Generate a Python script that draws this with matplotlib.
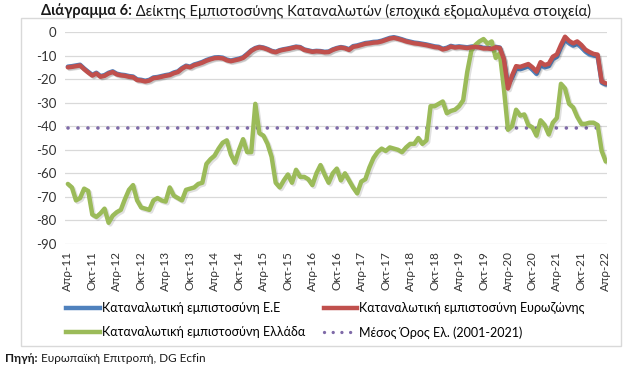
import matplotlib
matplotlib.use("Agg")
import matplotlib.pyplot as plt
from matplotlib.patches import Rectangle
from matplotlib.lines import Line2D
import matplotlib.patheffects as pe

# ---- data (monthly, Apr-2011 .. Apr-2022) ----
eurozone = [
    -15.0, -14.8, -14.5, -14.2, -15.8, -17.2, -18.5, -17.6, -19.0,
    -18.6, -17.6, -17.0, -18.0, -18.4, -18.6, -19.0, -19.2, -20.4, -20.6, -21.0, -20.6,
    -19.6, -19.4, -19.0, -18.6, -18.3, -17.5, -17.0, -15.6, -14.6, -15.0, -14.1, -13.6,
    -13.0, -12.2, -11.6, -11.1, -11.0, -11.2, -12.0, -12.4, -12.0, -11.6, -11.0, -9.6,
    -8.0, -7.0, -6.5, -6.8, -7.4, -8.2, -8.6, -7.9, -7.5, -7.2, -6.8, -6.4,
    -6.6, -7.6, -8.0, -8.4, -8.2, -8.3, -8.6, -8.5, -7.6, -7.0, -6.6, -6.9,
    -7.6, -6.3, -6.0, -5.5, -5.0, -4.8, -4.5, -4.4, -4.0, -3.4, -2.8, -2.5,
    -2.9, -3.4, -4.0, -4.4, -4.8, -5.0, -5.3, -5.6, -6.0, -6.4, -6.6, -7.4,
    -7.0, -6.2, -6.6, -6.4, -6.6, -6.8, -6.5, -6.3, -6.6, -7.0, -7.0, -7.2,
    -6.5, -6.8, -11.5, -24.0, -18.5, -14.5, -14.8, -14.2, -13.6, -15.0, -16.8, -12.8,
    -14.0, -13.5, -10.5, -9.5, -5.5, -2.0, -3.8, -4.8, -4.0, -5.5, -7.5, -8.5,
    -9.3, -9.6, -21.0, -21.8,
]
eu = [
    -14.7, -14.5, -14.2, -13.9, -15.5, -16.9, -18.2, -17.3, -18.7,
    -18.3, -17.3, -16.7, -17.7, -18.1, -18.3, -18.7, -18.9, -20.1, -20.3, -20.7, -20.3,
    -19.3, -19.1, -18.7, -18.3, -18.0, -17.2, -16.7, -15.3, -14.3, -14.7, -13.8, -13.3,
    -12.7, -11.9, -11.3, -10.8, -10.7, -10.9, -11.7, -12.1, -11.7, -11.3, -10.7, -9.3,
    -7.8, -6.8, -6.3, -6.6, -7.2, -8.0, -8.4, -7.7, -7.3, -7.0, -6.6, -6.2,
    -6.4, -7.4, -7.8, -8.2, -8.0, -8.1, -8.4, -8.3, -7.4, -6.8, -6.4, -6.7,
    -7.3, -6.0, -5.7, -5.2, -4.7, -4.5, -4.2, -4.1, -3.7, -3.1, -2.5, -2.2,
    -2.6, -3.1, -3.7, -4.1, -4.5, -4.7, -5.0, -5.3, -5.7, -6.1, -6.3, -7.1,
    -6.7, -5.9, -6.3, -6.1, -6.3, -6.5, -6.2, -6.0, -6.3, -6.7, -6.7, -6.9,
    -6.3, -6.6, -11.8, -22.5, -19.5, -15.5, -15.8, -15.2, -14.5, -16.0, -17.8, -14.0,
    -15.0, -14.5, -11.5, -10.5, -6.5, -3.2, -4.8, -5.8, -5.0, -6.5, -8.3, -9.5,
    -10.0, -10.3, -21.5, -22.3,
]
greece = [
    -64.5, -66.0, -71.5, -70.5, -66.5, -67.5, -77.5, -78.5, -77.0,
    -75.0, -81.0, -78.0, -76.5, -75.5, -71.0, -67.0, -65.0, -71.5, -74.5, -75.0, -75.5,
    -71.5, -70.5, -71.5, -72.0, -66.0, -69.5, -70.5, -71.5, -67.0, -66.5, -66.0, -64.5,
    -64.0, -56.0, -54.0, -52.5, -49.5, -47.0, -46.0, -52.0, -55.5, -50.0, -45.5, -51.0,
    -51.0, -30.5, -43.0, -44.0, -47.5, -53.0, -64.0, -66.0, -63.0, -60.5, -64.0, -58.5,
    -61.5, -61.5, -62.5, -65.0, -60.0, -56.5, -60.5, -64.0, -60.0, -58.0, -63.0, -60.0,
    -63.0, -66.0, -68.5, -63.5, -62.5, -57.5, -53.5, -51.0, -49.5, -50.5, -49.0, -49.5,
    -50.0, -51.0, -49.0, -47.5, -47.5, -45.0, -47.5, -46.0, -31.5, -31.5, -30.5, -29.5,
    -34.5, -33.5, -33.0, -31.5, -29.0, -17.0, -8.0, -5.5, -4.0, -3.0, -5.0, -4.0,
    -11.0, -9.0, -24.0, -41.5, -40.0, -33.0, -35.5, -35.0, -39.5, -40.5, -44.0, -37.5,
    -39.5, -43.5, -38.5, -36.5, -22.0, -24.0, -30.5, -32.0, -36.0, -39.0, -39.0, -38.5,
    -38.5, -39.5, -50.5, -55.0,
]
greece_mean = -40.7

tick_labels = ["Απρ-11", "Οκτ-11", "Απρ-12", "Οκτ-12", "Απρ-13", "Οκτ-13",
               "Απρ-14", "Οκτ-14", "Απρ-15", "Οκτ-15", "Απρ-16", "Οκτ-16",
               "Απρ-17", "Οκτ-17", "Απρ-18", "Οκτ-18", "Απρ-19", "Οκτ-19",
               "Απρ-20", "Οκτ-20", "Απρ-21", "Οκτ-21", "Απρ-22"]
y_ticks = [0, -10, -20, -30, -40, -50, -60, -70, -80, -90]

labels = ["Καταναλωτική εμπιστοσύνη Ε.Ε",
          "Καταναλωτική εμπιστοσύνη Ευρωζώνης",
          "Καταναλωτική εμπιστοσύνη Ελλάδα",
          "Μέσος Όρος Ελ. (2001-2021)"]

C_BLUE = "#4F81BD"
C_RED = "#C0504D"
C_GREEN = "#9BBB59"
C_PURPLE = "#7F6AA8"

FONT = ["Lato", "DejaVu Sans"]
plt.rcParams["font.family"] = FONT

W, H = 628, 377
fig = plt.figure(figsize=(W / 100, H / 100), dpi=100)

# outer frame
fig.patches.append(Rectangle((21 / W, 1 - 346 / H), (621 - 21) / W, (346 - 18) / H,
                             transform=fig.transFigure, fill=False,
                             edgecolor="#D9D9D9", linewidth=1.0))

shadow = [pe.SimpleLineShadow(offset=(1.2, -1.2), shadow_color="#000000", alpha=0.12),
          pe.Normal()]

ax = fig.add_axes([65 / W, 1 - 244 / H, (607 - 65) / W, (244 - 32) / H])
x = list(range(len(greece)))
ax.plot(x, eu, color=C_BLUE, lw=3.2, solid_capstyle="round", zorder=3,
        path_effects=shadow)
ax.plot(x, eurozone, color=C_RED, lw=3.2, solid_capstyle="round", zorder=4,
        path_effects=shadow)
ax.plot(x, greece, color=C_GREEN, lw=3.2, solid_capstyle="round", zorder=3,
        path_effects=shadow)
ax.plot([x[0], x[-1]], [greece_mean, greece_mean], color=C_PURPLE, lw=2.6,
        linestyle=(0, (0.01, 2.75)), dash_capstyle="round", zorder=2)

ax.set_ylim(-90, 0)
ax.set_xlim(-0.7, len(greece) - 1 + 0.3)
ax.set_yticks(y_ticks)
ax.set_yticklabels([str(v) for v in y_ticks], fontsize=9.5, color="#333333")
ax.set_xticks(list(range(0, len(greece), 6)))
ax.set_xticklabels(tick_labels, rotation=90, fontsize=8.5, color="#333333")
ax.tick_params(axis="both", length=0, pad=6)
ax.tick_params(axis="x", pad=5)
ax.grid(axis="y", color="#D9D9D9", lw=0.9)
ax.set_axisbelow(True)
for s in ax.spines.values():
    s.set_visible(False)
ax.patch.set_alpha(0)

handles = [Line2D([], [], color=C_BLUE, lw=3.2),
           Line2D([], [], color=C_GREEN, lw=3.2),
           Line2D([], [], color=C_RED, lw=3.2),
           Line2D([], [], color=C_PURPLE, lw=2.4, linestyle=(0, (0.01, 2.6)),
                  dash_capstyle="round")]
hl = [labels[0], labels[2], labels[1], labels[3]]
fig.legend(handles, hl, loc="upper left", bbox_to_anchor=(66 / W, 1 - 302 / H),
           ncol=2, frameon=False, fontsize=9, handlelength=2.7,
           handletextpad=0.15, columnspacing=1.5, labelspacing=0.95,
           borderaxespad=0, borderpad=0)

# title: bold part + regular part, centred
fig.canvas.draw()
r = fig.canvas.get_renderer()
t1 = fig.text(0, 1 - 11 / H, "Διάγραμμα 6:", fontsize=10.5, fontweight="bold",
              va="center", ha="left", color="#1a1a1a")
t2 = fig.text(0, 1 - 11 / H, " Δείκτης Εμπιστοσύνης Καταναλωτών (εποχικά εξομαλυμένα στοιχεία)",
              fontsize=10.5, va="center", ha="left", color="#1a1a1a")
w1 = t1.get_window_extent(r).width
w2 = t2.get_window_extent(r).width
x0 = 316 - (w1 + w2) / 2
t1.set_x(x0 / W)
t2.set_x((x0 + w1) / W)

s1 = fig.text(5 / W, 1 - 359 / H, "Πηγή:", fontsize=8.5, fontweight="bold",
              va="center", ha="left", color="#1a1a1a")
ws = s1.get_window_extent(r).width
fig.text((5 + ws) / W, 1 - 359 / H, " Ευρωπαϊκή Επιτροπή, DG Ecfin", fontsize=8.5,
         va="center", ha="left", color="#1a1a1a")

fig.savefig("out.png", dpi=100)
